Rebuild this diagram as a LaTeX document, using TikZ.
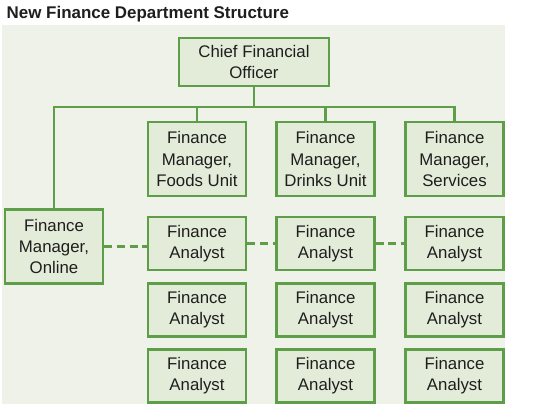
\documentclass[tikz,border=0pt]{standalone}
\usepackage{fontspec}
\setmainfont{Liberation Sans}
\definecolor{boxgreen}{HTML}{5E9E48}
\definecolor{boxfill}{HTML}{E3ECD9}
\definecolor{panel}{HTML}{EFF2E8}
\definecolor{ink}{HTML}{1E1E1E}

\begin{document}
\begin{tikzpicture}[x=0.75pt,y=-0.75pt,line join=miter,
  box/.style={draw=boxgreen,fill=boxfill,line width=1.8pt,align=center,inner sep=0pt,
    text=ink,font=\fontsize{12.6}{15.8}\selectfont},
  bigbox/.style={box,minimum width=112.5pt,minimum height=36pt},
  mgrbox/.style={box,minimum width=73.5pt,minimum height=55.5pt},
  anbox/.style={box,minimum width=73.5pt,minimum height=39.75pt},
  link/.style={draw=boxgreen,line width=1.8pt},
  dashlink/.style={link,dash pattern=on 6pt off 3.5pt}]

\useasboundingbox (0,0) rectangle (544,418);
\fill[panel] (2,25) rectangle (505,404);   % 背景

\node[anchor=west,text=ink,font=\bfseries\fontsize{12.7}{15}\selectfont] (title) at (2,14)
  {New Finance Department Structure};

% 上两层
\node[bigbox] (cfo) at (254,62) {Chief Financial\\Officer};
\node[mgrbox] (foods)  at (197,159)   {Finance\\Manager,\\Foods Unit};
\node[mgrbox] (drinks) at (325.5,159) {Finance\\Manager,\\Drinks Unit};
\node[mgrbox] (serv)   at (454.5,159) {Finance\\Manager,\\Services};
\node[mgrbox] (online) at (54,246.5)  {Finance\\Manager,\\Online};

% 分析师
\node[anbox] (a11) at (197,243.5)   {Finance\\Analyst};
\node[anbox] (a12) at (325.5,243.5) {Finance\\Analyst};
\node[anbox] (a13) at (454.5,243.5) {Finance\\Analyst};
\node[anbox] (a21) at (197,310)     {Finance\\Analyst};
\node[anbox] (a22) at (325.5,310)   {Finance\\Analyst};
\node[anbox] (a23) at (454.5,310)   {Finance\\Analyst};
\node[anbox] (a31) at (197,376)     {Finance\\Analyst};
\node[anbox] (a32) at (325.5,376)   {Finance\\Analyst};
\node[anbox] (a33) at (454.5,376)   {Finance\\Analyst};

\coordinate (bus) at (254,107);

\draw[link] (cfo.south) -- (bus);
\draw[link] (online.north) |- (serv.north |- bus) -- (serv.north);
\draw[link] (foods.north |- bus) -- (foods.north);
\draw[link] (drinks.north |- bus) -- (drinks.north);

\draw[dashlink] (online.east) -- (online.east -| a11.west);
\draw[dashlink] (a11.east) -- (a12.west);
\draw[dashlink] (a12.east) -- (a13.west);
\end{tikzpicture}
\end{document}
